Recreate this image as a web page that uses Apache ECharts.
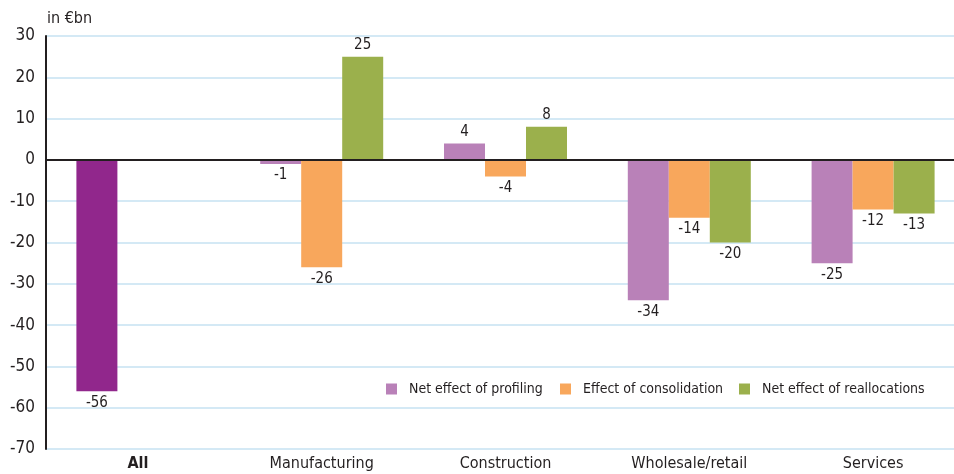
<!DOCTYPE html>
<html><head><meta charset="utf-8">
<script src="https://cdn.jsdelivr.net/npm/echarts@6/dist/echarts.min.js"></script>
<style>html,body{margin:0;padding:0;background:#fff}#c{width:954px;height:474px}</style>
</head><body><div id="c"></div>
<script>
const categories = ['All', 'Manufacturing', 'Construction', 'Wholesale/retail', 'Services'];
const profiling = [-56, -1, 4, -34, -25];
const consolidation = [null, -26, -4, -14, -12];
const reallocations = [null, 25, 8, -20, -13];
const seriesNames = ['Net effect of profiling', 'Effect of consolidation', 'Net effect of reallocations'];
const yTicks = { min: -70, max: 30, interval: 10 };

const FONT = '"Liberation Sans Narrow","DejaVu Sans Condensed","Liberation Sans",sans-serif';
const TXT = '#231f20';
const colors = ['#b981b8', '#f8a75c', '#9bb04c'];
const allColor = '#91278c';

const chart = echarts.init(document.getElementById('c'));
const label = {
  show: true, fontFamily: FONT, fontSize: 15, color: TXT, distance: 4,
  position: 'top',
  formatter: p => p.value
};
function mk(name, data, color, idx) {
  return {
    name, type: 'bar', data: data.map((v, i) => {
      if (v === null) return null;
      const item = { value: v, label: { position: v < 0 ? 'bottom' : 'top' } };
      if (idx === 0 && i === 0) item.itemStyle = { color: allColor };
      return item;
    }),
    itemStyle: { color }, barWidth: 41, barGap: '0%', label,
    markLine: idx === 0 ? {
      silent: true, symbol: 'none', label: { show: false },
      lineStyle: { color: TXT, width: 2, type: 'solid' },
      data: [{ yAxis: 0 }]
    } : undefined
  };
}
const legendPos = [386, 560, 739];
chart.setOption({
  animation: false,
  title: { text: 'in €bn', left: 47, top: 11, padding: 0, textStyle: { fontFamily: FONT, fontSize: 16, fontWeight: 'normal', color: TXT } },
  grid: { left: 46, width: 919, top: 36, bottom: 25, containLabel: false, outerBoundsMode: 'none' },
  legend: seriesNames.map((n, i) => ({
    data: [n], left: legendPos[i], top: 382, padding: 0, icon: 'rect', itemWidth: 11, itemHeight: 11,
    selectedMode: false,
    textStyle: { fontFamily: FONT, fontSize: 14, color: TXT, padding: [0, 0, 0, 7] }
  })),
  xAxis: {
    type: 'category', data: categories,
    axisLine: { show: false, onZero: false }, axisTick: { show: false },
    axisLabel: {
      fontFamily: FONT, fontSize: 16, color: TXT, margin: 7,
      formatter: v => v === 'All' ? '{b|' + v + '}' : v,
      rich: { b: { fontFamily: FONT, fontSize: 16, fontWeight: 'bold', color: TXT } }
    }
  },
  yAxis: {
    type: 'value', min: yTicks.min, max: yTicks.max, interval: yTicks.interval,
    axisLine: { show: true, lineStyle: { color: TXT, width: 2 } },
    axisTick: { show: false },
    axisLabel: { fontFamily: FONT, fontSize: 17, color: TXT, margin: 11 },
    splitLine: { lineStyle: { color: '#c6e2f2', width: 1.5 } }
  },
  series: [
    mk(seriesNames[0], profiling, colors[0], 0),
    mk(seriesNames[1], consolidation, colors[1], 1),
    mk(seriesNames[2], reallocations, colors[2], 2)
  ]
});
</script></body></html>
